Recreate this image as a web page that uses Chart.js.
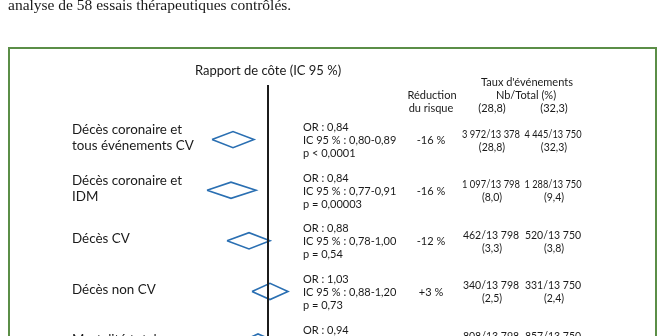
<!DOCTYPE html>
<html><head><meta charset="utf-8">
<script src="https://cdn.jsdelivr.net/npm/chart.js@4"></script>
<style>html,body{margin:0;padding:0;background:#fff;overflow:hidden}canvas{display:block}</style>
</head><body>
<canvas id="c" width="667" height="336"></canvas>
<script>
// ---------- DATA ----------
const caption = "analyse de 58 essais thérapeutiques contrôlés.";
const axisTitle = "Rapport de côte (IC 95 %)";
const headerReduction = ["Réduction", "du risque"];
const headerRates = ["Taux d'événements", "Nb/Total (%)"];
const categories = [
  ["Décès coronaire et", "tous événements CV"],
  ["Décès coronaire et", "IDM"],
  ["Décès CV"],
  ["Décès non CV"],
  ["Mortalité totale"]
];
const oddsRatio = [0.84, 0.84, 0.88, 1.03, 0.94];
const ciLow = [0.80, 0.77, 0.78, 0.88, 0.85];
const ciHigh = [0.89, 0.91, 1.00, 1.20, 1.04];
const pValues = ["p < 0,0001", "p = 0,00003", "p = 0,54", "p = 0,73", "p = 0,22"];
const riskReduction = ["-16 %", "-16 %", "-12 %", "+3 %", "-6 %"];
const eventsTreated = [3972, 1097, 462, 340, 808];
const totalTreated = [13378, 13798, 13798, 13798, 13798];
const pctTreated = ["28,8", "8,0", "3,3", "2,5", "5,9"];
const eventsControl = [4445, 1288, 520, 331, 857];
const totalControl = [13750, 13750, 13750, 13750, 13750];
const pctControl = ["32,3", "9,4", "3,8", "2,4", "6,2"];
// diamonds as drawn on the odds-ratio axis (left tip, centre, right tip)
const diamondLow = [0.72, 0.695, 0.795, 0.92, 0.86];
const diamondMid = [0.825, 0.815, 0.905, 1.01, 0.95];
const diamondHigh = [0.93, 0.94, 1.01, 1.10, 1.045];
const referenceOR = 1;

// ---------- helpers ----------
const fr2 = v => v.toFixed(2).replace('.', ',');
const frInt = n => String(n).replace(/\B(?=(\d{3})+(?!\d))/g, ' ');
const DIAMOND_HALF = 0.16;   // half-height in row units
const REF_TOP = -1.08;       // top of reference line (row units)

const datasets = [];
datasets.push({
  data: [{x: referenceOR, y: REF_TOP}, {x: referenceOR, y: 6}],
  borderColor: '#1c1c1c', borderWidth: 2, showLine: true, pointRadius: 0
});
categories.forEach((c, i) => {
  datasets.push({
    data: [
      {x: diamondLow[i], y: i},
      {x: diamondMid[i], y: i - DIAMOND_HALF},
      {x: diamondHigh[i], y: i},
      {x: diamondMid[i], y: i + DIAMOND_HALF},
      {x: diamondLow[i], y: i}
    ],
    borderColor: '#2a6fb2', borderWidth: 1.6, showLine: true, pointRadius: 0,
    fill: false, tension: 0, borderJoinStyle: 'miter'
  });
});

const FONT = 'Lato, "Open Sans", sans-serif';
const textPlugin = {
  id: 'texts',
  beforeDraw(chart) {
    const ctx = chart.ctx;
    ctx.save();
    ctx.fillStyle = '#fff';
    ctx.fillRect(0, 0, chart.width, chart.height);
    ctx.strokeStyle = '#5b8e47';
    ctx.lineWidth = 2;
    ctx.strokeRect(9, 48, 647, 400);
    ctx.restore();
  },
  afterDraw(chart) {
    const ctx = chart.ctx;
    const xs = chart.scales.x, ys = chart.scales.y;
    ctx.save();
    ctx.fillStyle = '#1a1a1a';
    // caption
    ctx.font = '15.5px "Liberation Serif", serif';
    ctx.textAlign = 'left'; ctx.textBaseline = 'alphabetic';
    ctx.fillText(caption, 8, 10);
    ctx.textBaseline = 'middle';
    // axis title
    ctx.font = '13px ' + FONT;
    ctx.textAlign = 'center';
    ctx.fillText(axisTitle, xs.getPixelForValue(referenceOR), 71);
    // headers
    ctx.font = '11px ' + FONT;
    ctx.fillText(headerReduction[0], 432, 95);
    ctx.fillText(headerReduction[1], 431, 108);
    ctx.fillText(headerRates[0], 527, 82);
    ctx.fillText(headerRates[1], 526, 95);
    ctx.fillText('(' + pctTreated[0] + ')', 492, 108);
    ctx.fillText('(' + pctControl[0] + ')', 554, 108);
    // rows
    categories.forEach((lines, i) => {
      const yc = ys.getPixelForValue(i);
      ctx.font = '13.4px ' + FONT;
      ctx.textAlign = 'left';
      const lh = 16;
      lines.forEach((t, k) => {
        ctx.fillText(t, 72, yc - 2 + (k - (lines.length - 1) / 2) * lh);
      });
      const yb = yc + 1;
      ctx.font = '11px ' + FONT;
      ctx.fillText('OR : ' + fr2(oddsRatio[i]), 303, yb - 13);
      ctx.fillText('IC 95 % : ' + fr2(ciLow[i]) + '-' + fr2(ciHigh[i]), 303, yb);
      ctx.fillText(pValues[i], 303, yb + 13);
      ctx.textAlign = 'center';
      ctx.fillText(riskReduction[i], 431, yb);
      ctx.font = '10.5px ' + FONT;
      ctx.fillText(frInt(eventsTreated[i]) + '/' + frInt(totalTreated[i]), 491, yb - 6.5, 58);
      ctx.fillText('(' + pctTreated[i] + ')', 492, yb + 6.5);
      ctx.fillText(frInt(eventsControl[i]) + '/' + frInt(totalControl[i]), 553, yb - 6.5, 57);
      ctx.fillText('(' + pctControl[i] + ')', 554, yb + 6.5);
    });
    ctx.restore();
  }
};

new Chart(document.getElementById('c'), {
  type: 'scatter',
  data: { datasets },
  options: {
    responsive: false, animation: false, devicePixelRatio: 1,
    layout: { padding: 0 },
    plugins: { legend: { display: false }, tooltip: { enabled: false } },
    scales: {
      x: { type: 'linear', display: false, min: -0.34, max: 2.995 },
      y: { type: 'linear', display: false, reverse: true, min: -2.759, max: 3.881 }
    }
  },
  plugins: [textPlugin]
});
</script>
</body></html>
